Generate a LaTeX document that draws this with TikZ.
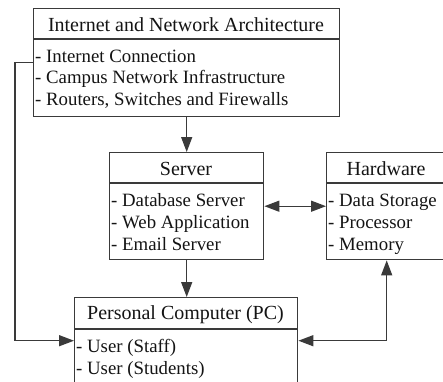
\documentclass[tikz,border=0pt]{standalone}
\usepackage{fontspec}
\setmainfont{Liberation Serif}
\usetikzlibrary{arrows.meta}
\definecolor{linegray}{HTML}{3A3A3A}
\definecolor{ink}{HTML}{141414}
\begin{document}
\begin{tikzpicture}[x=1pt,y=-1pt,
  box/.style={draw=linegray, line width=1.4pt, fill=white, inner sep=0pt, anchor=north west},
  divider/.style={draw=linegray, line width=1.4pt},
  ttl/.style={font=\fontsize{20}{24}\selectfont, text=ink, anchor=base, inner sep=0pt},
  itm/.style={font=\fontsize{18.8}{22}\selectfont, text=ink, anchor=base west, inner sep=0pt},
  conn/.style={draw=linegray, line width=1.4pt},
  arr/.style={-{Triangle[length=15pt,width=11pt]}},
  arrboth/.style={{Triangle[length=15pt,width=11pt]}-{Triangle[length=15pt,width=11pt]}}]
\useasboundingbox (0,0) rectangle (443,381);
\fill[white] (0,0) rectangle (443,381);
\clip (0,0) rectangle (443,381);

% boxes
\node[box, minimum width=306pt, minimum height=108pt] (inet) at (33,8) {};
\node[box, minimum width=154pt, minimum height=107pt] (server) at (109,152) {};
\node[box, minimum width=120pt, minimum height=107pt] (hw) at (326,152) {};
\node[box, minimum width=223pt, minimum height=86pt] (pc) at (74,297) {};

% title separators
\draw[divider] (33,39) -- (339,39);
\draw[divider] (109,183) -- (263,183);
\draw[divider] (326,183) -- (446,183);
\draw[divider] (74,329) -- (297,329);

% Internet and Network Architecture
\node[ttl] (inetT) at (186,31) {Internet and Network Architecture};
\node[itm] (inet1) at (35,62) {- Internet Connection};
\node[itm] (inet2) at (35,83.5) {- Campus Network Infrastructure};
\node[itm] (inet3) at (35,105) {- Routers, Switches and Firewalls};

% Server
\node[ttl] (serverT) at (186,175) {Server};
\node[itm] (server1) at (111,206) {- Database Server};
\node[itm] (server2) at (111,228) {- Web Application};
\node[itm] (server3) at (111,250) {- Email Server};

% Hardware
\node[ttl] (hwT) at (386,175) {Hardware};
\node[itm] (hw1) at (328,206) {- Data Storage};
\node[itm] (hw2) at (328,228) {- Processor};
\node[itm] (hw3) at (328,250) {- Memory};

% Personal Computer
\node[ttl] (pcT) at (185.5,319) {Personal Computer (PC)};
\node[itm] (pc1) at (76,352) {- User (Staff)};
\node[itm] (pc2) at (76,374) {- User (Students)};

% connectors
\draw[conn,arr] (inet.south) -- (server.north);
\draw[conn,arrboth] (server.east) -- (hw.west);
\draw[conn,arr] (server.south) -- (server.south |- pc.north);
\draw[conn,arr] (inet.west) -- ++(-18,0) |- (pc.west);
\draw[conn,arrboth] (hw.south) |- (pc.east);
\end{tikzpicture}
\end{document}
